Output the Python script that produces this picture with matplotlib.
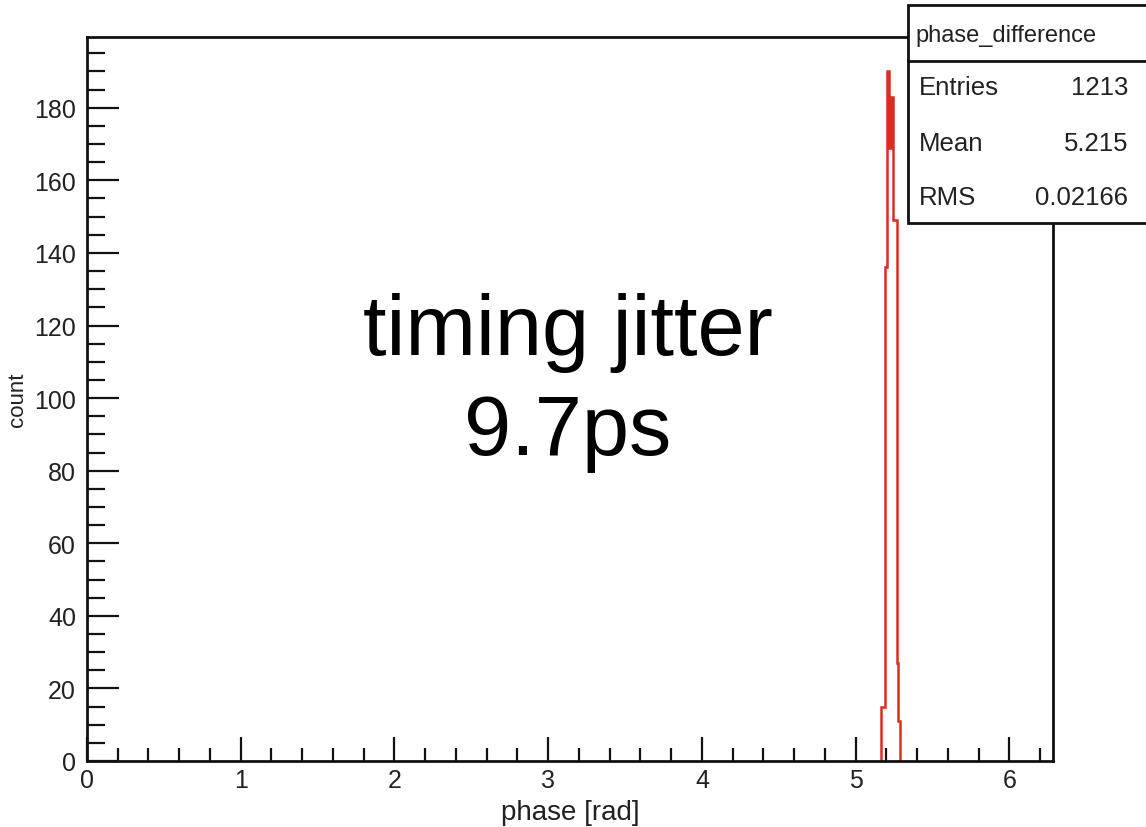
import numpy as np
import matplotlib
matplotlib.use("Agg")
import matplotlib.pyplot as plt
from matplotlib.ticker import MultipleLocator
from matplotlib.patches import Rectangle
from matplotlib.lines import Line2D

# ---- data ----
n_bins_total = 500                 # histogram binning over [0, 2*pi]
first_bin = 411                    # index of first non-empty bin
counts = [15, 15, 136, 190, 169, 183, 149, 149, 27, 11]
hist_name = "phase_difference"
stat_labels = ["Entries", "Mean", "RMS"]
stat_values = ["1213", "5.215", "0.02166"]
x_label = "phase [rad]"
y_label = "count"
overlay_lines = ["timing jitter", "9.7ps"]

FONT = ["Liberation Sans", "DejaVu Sans"]
plt.rcParams['font.family'] = FONT

W, H = 1146, 828
fig = plt.figure(figsize=(W / 100, H / 100), dpi=100)
fig.patch.set_facecolor("white")

def fx(px):
    return px / W

def fy(py):
    return 1 - py / H

ax_l, ax_r, ax_t, ax_b = 87, 1053, 38, 762
ax = fig.add_axes([fx(ax_l), fy(ax_b), fx(ax_r - ax_l), (ax_b - ax_t) / H])

bw = 2 * np.pi / n_bins_total
edges = (first_bin + np.arange(len(counts) + 1)) * bw
ax.stairs(counts, edges, color="#dc2c22", linewidth=1.8)

ax.set_xlim(0, 2 * np.pi)
ax.set_ylim(0, 199.5)

for s in ax.spines.values():
    s.set_linewidth(2.0)
    s.set_color("#111111")

ax.xaxis.set_major_locator(MultipleLocator(1))
ax.xaxis.set_minor_locator(MultipleLocator(0.2))
ax.yaxis.set_major_locator(MultipleLocator(20))
ax.yaxis.set_minor_locator(MultipleLocator(5))

ax.tick_params(axis="x", which="major", direction="in", length=17, width=1.6,
               labelsize=18, pad=5, top=False, colors="#111111")
ax.tick_params(axis="x", which="minor", direction="in", length=9.5, width=1.6, top=False,
               colors="#111111")
ax.tick_params(axis="y", which="major", direction="in", length=23, width=1.6,
               labelsize=18, pad=8, right=False, colors="#111111")
ax.tick_params(axis="y", which="minor", direction="in", length=13, width=1.6, right=False,
               colors="#111111")
for lab in ax.get_xticklabels() + ax.get_yticklabels():
    lab.set_color("#222222")

ax.set_xlabel(x_label, fontsize=20, color="#222222", labelpad=5)
ax.set_ylabel(y_label, fontsize=16, color="#222222")
ax.yaxis.set_label_coords(-0.061, 0.5)

# ---- overlay text ----
fig.text(fx(568), fy(355), overlay_lines[0], fontsize=61, ha="center", va="baseline",
         color="black")
fig.text(fx(568), fy(455), overlay_lines[1], fontsize=61, ha="center", va="baseline",
         color="black")

# ---- stats box ----
bx_l, bx_t, bx_b, bx_sep = 908, 6, 224, 62
box = Rectangle((fx(bx_l), fy(bx_b)), fx(W + 20 - bx_l), (bx_b - bx_t) / H,
                transform=fig.transFigure, facecolor="white", edgecolor="#111111",
                linewidth=2.0, zorder=5, clip_on=False)
fig.add_artist(box)
fig.add_artist(Line2D([fx(bx_l), fx(W + 20)], [fy(bx_sep), fy(bx_sep)],
                      transform=fig.transFigure, color="#111111", linewidth=2.0, zorder=6))
fig.text(fx(915), fy(36), hist_name, fontsize=17, ha="left", va="center",
         color="#222222", zorder=7)
row_y = [88, 144, 198]
for lab, val, yy in zip(stat_labels, stat_values, row_y):
    fig.text(fx(919), fy(yy), lab, fontsize=18.5, ha="left", va="center",
             color="#222222", zorder=7)
    fig.text(fx(1128), fy(yy), val, fontsize=18.5, ha="right", va="center",
             color="#222222", zorder=7)

fig.savefig("out.png", dpi=100, facecolor="white")
